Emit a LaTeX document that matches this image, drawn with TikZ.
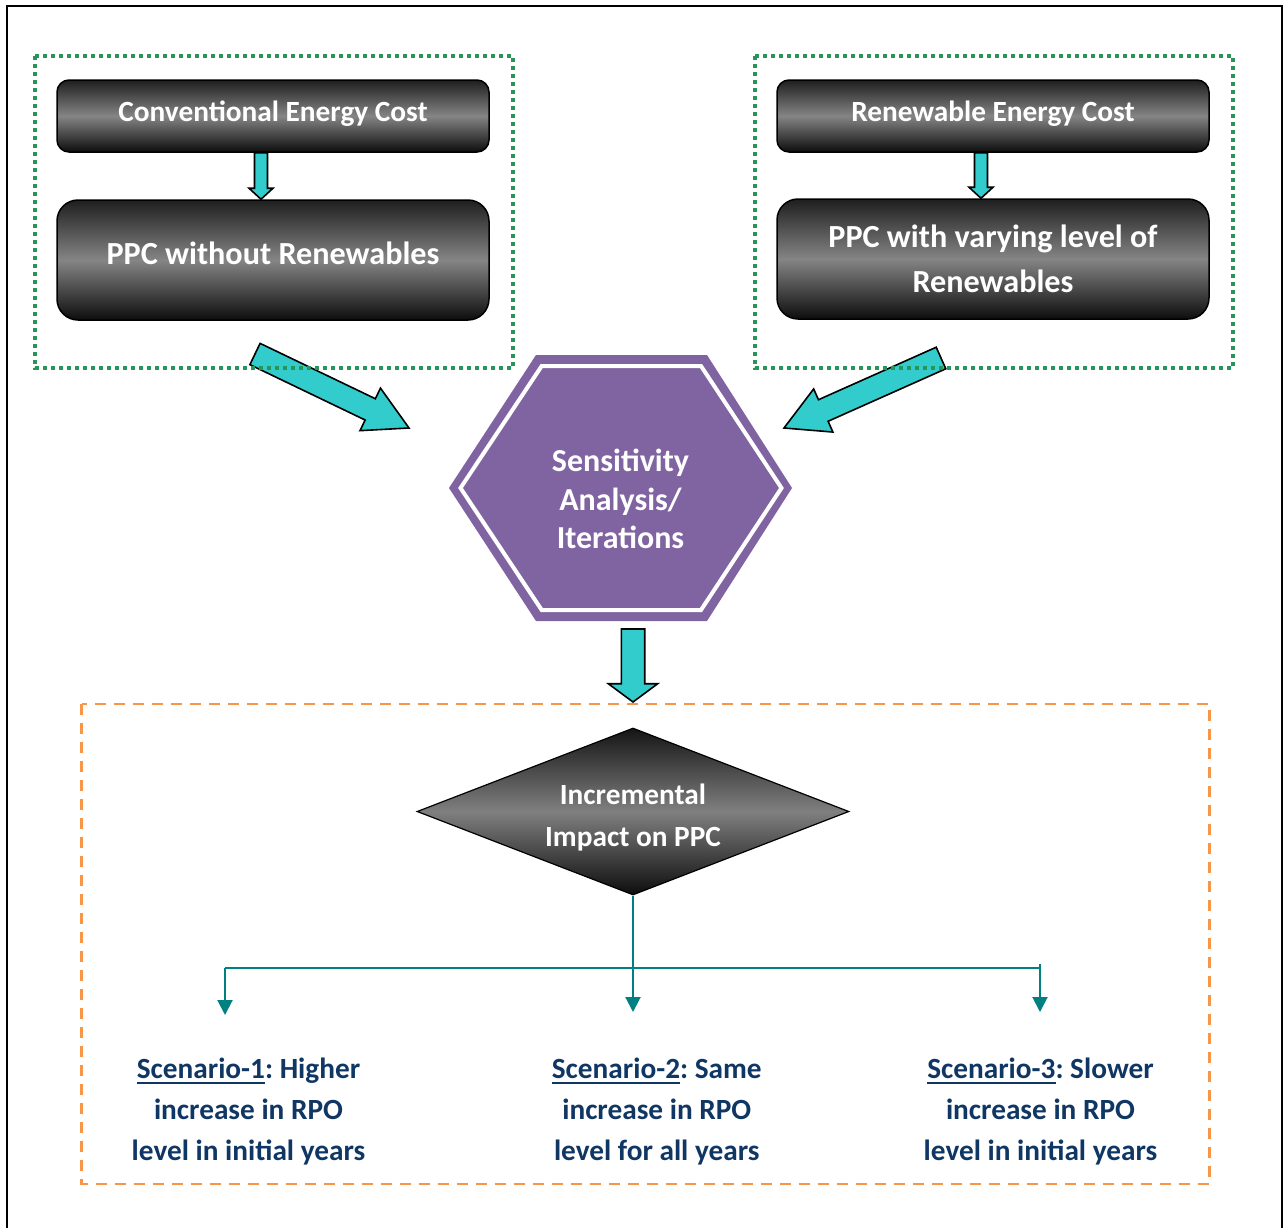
\documentclass[tikz,border=0pt]{standalone}
\usepackage{fontspec}
\setmainfont{Carlito}
\usetikzlibrary{shapes.geometric,calc,arrows.meta}
\definecolor{cyanarrow}{RGB}{51,204,204}
\definecolor{hexpurple}{RGB}{128,100,162}
\definecolor{dotgreen}{RGB}{40,148,88}
\definecolor{dashorange}{RGB}{247,150,70}
\definecolor{tealline}{RGB}{0,128,128}
\definecolor{navytext}{RGB}{16,55,100}
\frenchspacing
\newcommand\ulsc[1]{\setbox0=\hbox{#1}\rlap{\rule[-5.5pt]{\wd0}{2.4pt}}\box0}
\newcommand\blockarr[5]{%
  \coordinate (bh) at ($(#2)!#5!(#1)$);
  \draw[blockarrow] ($(#1)!#3!90:(#2)$) -- ($(bh)!#3!90:(#2)$) -- ($(bh)!#4!90:(#2)$) -- (#2)
    -- ($(bh)!#4!-90:(#2)$) -- ($(bh)!#3!-90:(#2)$) -- ($(#1)!#3!-90:(#2)$) -- cycle;}
\tikzset{
  gbox/.style={draw=black, line width=1.5pt, top color=black!88, bottom color=black!95,
    middle color=black!48, text=white, inner sep=0pt, minimum width=432pt},
  smallfont/.style={font=\fontsize{29.3}{35}\selectfont\bfseries},
  bigfont/.style={font=\fontsize{32.2}{45}\selectfont\bfseries},
  blockarrow/.style={fill=cyanarrow, draw=black, line width=1.6pt, line join=miter},
  greendot/.style={draw=dotgreen, line width=4pt, dash pattern=on 4pt off 4pt},
  orangedash/.style={draw=dashorange, line width=2.5pt, dash pattern=on 11pt off 8pt},
  tline/.style={draw=tealline, line width=2pt},
  tarr/.style={-{Triangle[length=15pt,width=15pt]}},
  scen/.style={text=navytext, align=center, inner sep=0pt,
    font=\fontsize{29.3}{41}\selectfont\bfseries}
}
\begin{document}
\begin{tikzpicture}[x=1pt,y=-1pt]
\useasboundingbox (0,0) rectangle (1283,1227);
\draw[line width=2pt] (7,6) rectangle (1281.5,1234);

% top boxes
\node[gbox, smallfont, minimum height=72pt, rounded corners=12pt, text height=20pt, text depth=9.2pt]
  (conv) at (273,116) {Conventional Energy Cost};
\node[gbox, bigfont, minimum height=120pt, rounded corners=21pt, text height=22pt, text depth=13.4pt]
  (ppc1) at (273,260) {PPC without Renewables};
\node[gbox, smallfont, minimum height=72pt, rounded corners=12pt, text height=20pt, text depth=9.2pt]
  (ren) at (993,116) {Renewable Energy Cost};
\node[gbox, bigfont, minimum height=120pt, rounded corners=21pt, align=center]
  (ppc2) at (993,259) {PPC with varying level of\\Renewables};

% small arrows
\coordinate (sa1) at ([xshift=-12pt]conv.south);
\coordinate (sa2) at ([xshift=-12pt]ppc1.north);
\blockarr{sa1}{sa2}{6.5pt}{12pt}{11pt}
\coordinate (sb1) at ([xshift=-12pt]ren.south);
\coordinate (sb2) at ([xshift=-12pt]ppc2.north);
\blockarr{sb1}{sb2}{6.5pt}{12pt}{11pt}

% hexagon
\fill[hexpurple] (536,355) -- (707,355) -- (792,488) -- (707,621) -- (536,621) -- (449,488) -- cycle;
\draw[white, line width=4pt] (541.7,366) -- (701,366) -- (781.5,488) -- (701,610) -- (541.7,610) -- (460.5,488) -- cycle;
\node[text=white, align=center, inner sep=0pt, font=\fontsize{32}{38.5}\selectfont\bfseries]
  (sens) at (620.5,499) {Sensitivity\\Analysis/\\Iterations};

% big arrows
\coordinate (la1) at (255,354);
\coordinate (la2) at (409,428);
\blockarr{la1}{la2}{11.8pt}{23.6pt}{43pt}
\coordinate (ra1) at (941,358);
\coordinate (ra2) at (784,428);
\blockarr{ra1}{ra2}{11.8pt}{23.6pt}{43pt}

% green dotted groups
\draw[greendot] (35,56) rectangle (513,368);
\draw[greendot] (755,56) rectangle (1233,368);

% down arrow
\coordinate (d1) at (633,629);
\coordinate (d2) at (633,702);
\blockarr{d1}{d2}{11.7pt}{24.7pt}{18.3pt}

% orange dashed group
\draw[orangedash] (81.5,704) rectangle (1209.5,1184);

% diamond
\node[diamond, aspect=2.59, minimum width=432pt, minimum height=167pt, inner sep=0pt,
  draw=black, line width=1.2pt, top color=black!92, bottom color=black!95, middle color=black!50,
  text=white, align=center, font=\fontsize{29.3}{42}\selectfont\bfseries]
  (inc) at (633,811.5) {\rule{0pt}{32.5pt}Incremental\\Impact on PPC};

% teal connectors
\coordinate (hl) at (225,968);
\coordinate (hr) at (1040,968);
\coordinate (hr0) at (1040,964);
\coordinate (t1) at (225,1015);
\coordinate (t2) at (633,1012);
\coordinate (t3) at (1040,1012);
\draw[tline] (hl) -- (hr);
\draw[tline, tarr] (inc.south) -- (t2);
\draw[tline, tarr] (hl) -- (t1);
\draw[tline, tarr] (hr0) -- (t3);

% scenarios
\node[scen] (s1) at (248.5,1112) {\ulsc{Scenario-1}: Higher\\increase in RPO\\level in initial years};
\node[scen] (s2) at (656.8,1112) {\ulsc{Scenario-2}: Same\\increase in RPO\\level for all years};
\node[scen] (s3) at (1040.5,1112) {\ulsc{Scenario-3}: Slower\\increase in RPO\\level in initial years};
\end{tikzpicture}
\end{document}
